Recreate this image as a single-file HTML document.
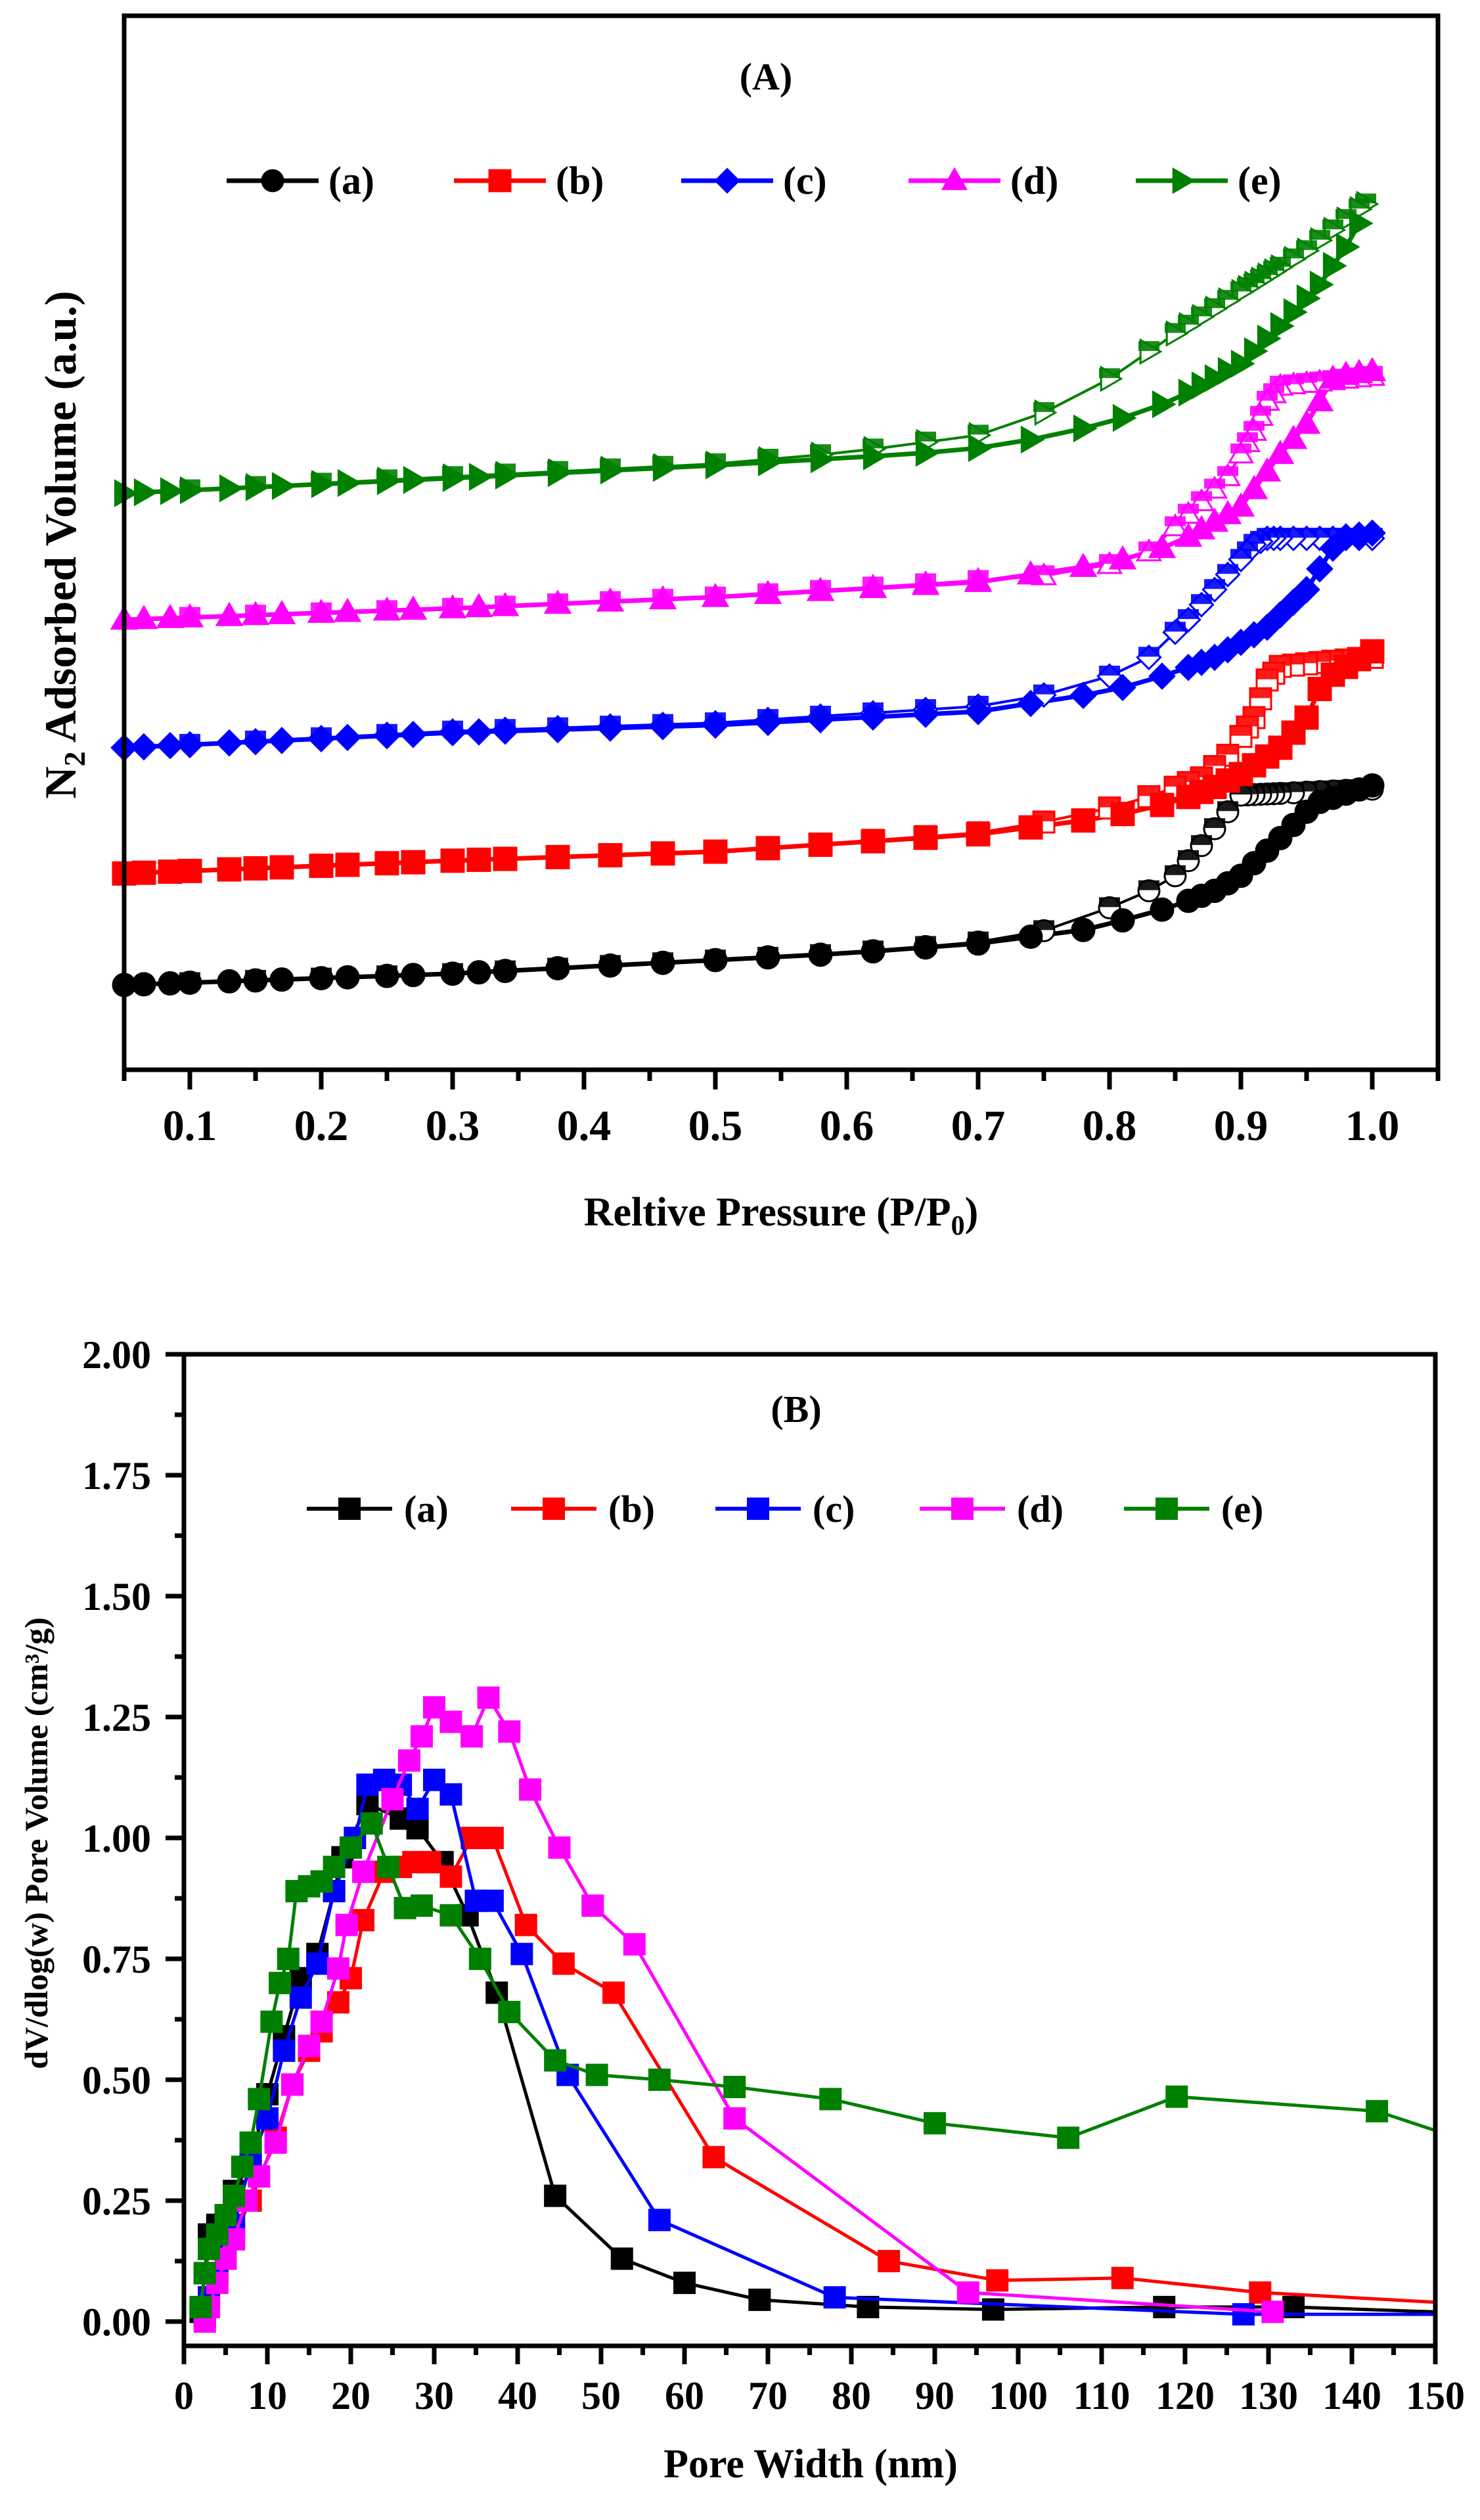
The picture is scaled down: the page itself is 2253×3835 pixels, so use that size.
<!DOCTYPE html>
<html><head><meta charset="utf-8"><style>
html,body{margin:0;padding:0;background:#fff;}
svg{display:block;}
text{font-family:"Liberation Serif",serif;font-weight:bold;fill:#000;}
</style></head><body>
<svg id="s" width="2253" height="3835" xmlns="http://www.w3.org/2000/svg"></svg>
<script>
var S=document.getElementById('s'),out=[];
function add(t){out.push(t);}
function interp(k,P){if(P<=k[0][0])return k[0][1];for(var i=1;i<k.length;i++){if(P<=k[i][0]){var a=k[i-1],b=k[i];return a[1]+(b[1]-a[1])*(P-a[0])/(b[0]-a[0]);}}return k[k.length-1][1];}
function shape(sh,x,y,s,col,fill){
 var h=s/2;
 if(sh=='c')return '<circle cx="'+x+'" cy="'+y+'" r="'+h+'" fill="'+fill+'" stroke="'+col+'" stroke-width="3"/>';
 if(sh=='s')return '<rect x="'+(x-h)+'" y="'+(y-h)+'" width="'+s+'" height="'+s+'" fill="'+fill+'" stroke="'+col+'" stroke-width="3"/>';
 var p;
 if(sh=='d')p=[[x,y-h*1.1],[x+h*1.1,y],[x,y+h*1.1],[x-h*1.1,y]];
 if(sh=='t')p=[[x,y-h*1.1],[x+h*1.1,y+h*0.8],[x-h*1.1,y+h*0.8]];
 if(sh=='r')p=[[x+h*1.1,y],[x-h*0.8,y-h*1.1],[x-h*0.8,y+h*1.1]];
 return '<polygon points="'+p.map(function(q){return q[0].toFixed(1)+','+q[1].toFixed(1)}).join(' ')+'" fill="'+fill+'" stroke="'+col+'" stroke-width="3"/>';
}
// ---------- Panel A ----------
function ax(P){return 189+(P-0.05)*2000;}
function ay(y){return 24+(y-18)*1.146;}
var A=[
 {c:'#000',sh:'c',ads:[[0.05,1305],[0.3,1290],[0.5,1272],[0.6,1263],[0.7,1250],[0.78,1232],[0.82,1215],[0.85,1200],[0.88,1180],[0.9,1160],[0.93,1110],[0.95,1075],[0.96,1062],[1.0,1040]],
  des:[[0.05,1305],[0.3,1290],[0.5,1272],[0.6,1263],[0.7,1248],[0.75,1233],[0.78,1215],[0.82,1190],[0.85,1160],[0.87,1120],[0.89,1075],[0.9,1053],[1.0,1045]]},
 {c:'#ff0000',sh:'s',ads:[[0.05,1157],[0.3,1140],[0.5,1128],[0.7,1105],[0.8,1082],[0.85,1062],[0.88,1042],[0.9,1025],[0.93,990],[0.95,950],[0.96,912],[0.97,893],[1.0,862]],
  des:[[0.05,1157],[0.3,1140],[0.5,1128],[0.7,1103],[0.78,1080],[0.83,1055],[0.87,1030],[0.89,1000],[0.91,950],[0.92,900],[0.93,882],[1.0,870]]},
 {c:'#0000ff',sh:'d',ads:[[0.05,990],[0.3,970],[0.5,960],[0.7,942],[0.8,915],[0.85,890],[0.88,870],[0.92,830],[0.95,780],[0.97,725],[0.98,710],[1.0,705]],
  des:[[0.05,990],[0.3,968],[0.5,957],[0.7,935],[0.75,920],[0.8,895],[0.83,870],[0.86,820],[0.89,760],[0.91,720],[0.92,712],[1.0,712]]},
 {c:'#ff00ff',sh:'t',ads:[[0.05,820],[0.3,805],[0.5,790],[0.7,770],[0.8,745],[0.85,720],[0.9,670],[0.93,600],[0.95,560],[0.97,500],[0.98,495],[1.0,490]],
  des:[[0.05,820],[0.3,805],[0.5,790],[0.7,768],[0.78,758],[0.83,730],[0.86,680],[0.89,630],[0.91,570],[0.92,530],[0.93,510],[1.0,497]]},
 {c:'#008000',sh:'r',ads:[[0.05,652],[0.3,632],[0.5,615],[0.65,600],[0.7,592],[0.75,578],[0.8,558],[0.85,528],[0.9,480],[0.93,430],[0.96,375],[0.98,325],[0.995,278]],
  des:[[0.05,652],[0.3,630],[0.5,613],[0.6,598],[0.7,575],[0.75,545],[0.8,500],[0.85,440],[0.9,385],[0.95,330],[0.995,268]]}
];
var PA=[0.05,0.065,0.085,0.1,0.13,0.15,0.17,0.2,0.22,0.25,0.27,0.3,0.32,0.34,0.38,0.42,0.46,0.5,0.54,0.58,0.62,0.66,0.7,0.74,0.78,0.81,0.84,0.86,0.87,0.88,0.89,0.9,0.91,0.92,0.93,0.94,0.95,0.96,0.97,0.98,0.99,1.0];
var PD=[1.0,0.99,0.98,0.97,0.96,0.95,0.94,0.93,0.925,0.92,0.915,0.91,0.905,0.9,0.89,0.88,0.87,0.86,0.85,0.83,0.8,0.75,0.7,0.66,0.62,0.58,0.54,0.5,0.46,0.42,0.38,0.34,0.3,0.25,0.2,0.15,0.1];
A.forEach(function(s){
 var pa=PA.filter(function(p){return p<=s.ads[s.ads.length-1][0]+1e-9;});
 var pd=PD.map(function(p){return Math.min(p,s.des[s.des.length-1][0]);});
 var la=pa.map(function(p){return ax(p).toFixed(1)+','+ay(interp(s.ads,p)).toFixed(1);}).join(' ');
 var ld=pd.map(function(p){return ax(p).toFixed(1)+','+ay(interp(s.des,p)).toFixed(1);}).join(' ');
 add('<polyline points="'+ld+'" fill="none" stroke="'+s.c+'" stroke-width="4"/>');
 add('<polyline points="'+la+'" fill="none" stroke="'+s.c+'" stroke-width="7"/>');
 pd.forEach(function(p){var x=ax(p),y=ay(interp(s.des,p));add(shape(s.sh,x,y,32,s.c,'#fff'));add('<rect x="'+(x-16)+'" y="'+(y-16)+'" width="32" height="15" fill="'+s.c+'" opacity="0.9"/>');});
 pa.forEach(function(p){add(shape(s.sh,ax(p),ay(interp(s.ads,p)),34,s.c,s.c));});
});
add('<rect x="189" y="24" width="2000" height="1604" fill="none" stroke="#000" stroke-width="7"/>');
for(var i=0;i<=20;i++){var P=0.05+i*0.05;var x=ax(P);var maj=(i%2==1);add('<line x1="'+x+'" y1="1628" x2="'+x+'" y2="'+(maj?1658:1645)+'" stroke="#000" stroke-width="7"/>');
 if(maj){add('<text x="'+x+'" y="1735" font-size="66" text-anchor="middle">'+(Math.round(P*10)/10).toFixed(1)+'</text>');}}
add('<text x="1166" y="136" font-size="58" text-anchor="middle">(A)</text>');
add('<text x="1189" y="1865" font-size="62" text-anchor="middle">Reltive Pressure (P/P<tspan font-size="42" dy="14">0</tspan><tspan dy="-14">)</tspan></text>');
add('<text transform="translate(115,829) rotate(-90)" font-size="68" text-anchor="middle">N<tspan font-size="46" dy="14">2</tspan><tspan dy="-14"> Adsorbed Volume (a.u.)</tspan></text>');
var legA=['(a)','(b)','(c)','(d)','(e)'];
A.forEach(function(s,i){var mx=415+i*346,y=275;add('<line x1="'+(mx-70)+'" y1="'+y+'" x2="'+(mx+70)+'" y2="'+y+'" stroke="'+s.c+'" stroke-width="7"/>');add(shape(s.sh,mx,y,32,s.c,s.c));add('<text x="'+(mx+85)+'" y="'+(y+20)+'" font-size="60">'+legA[i]+'</text>');});
// ---------- Panel B ----------
function bx(v){return 280+v*1905/150;}
function by(v){return 3533-v*736;}
var B=[
 {c:'#000',d:[[2,0.02],[2.5,0.1],[3,0.18],[4,0.2],[5,0.22],[6,0.27],[8,0.33],[10,0.47],[12,0.59],[14,0.71],[16,0.76],[18,0.89],[19,0.96],[22,1.07],[26,1.04],[28,1.02],[31,0.95],[34,0.84],[37.5,0.68],[44.5,0.26],[52.5,0.13],[60,0.08],[69,0.045],[82,0.03],[97,0.025],[117.5,0.03],[133,0.03],[150,0.02]]},
 {c:'#ff0000',d:[[2.5,0.01],[3,0.05],[4,0.1],[5,0.14],[6,0.18],[8,0.25],[11,0.38],[13,0.49],[15,0.56],[16.5,0.6],[18.5,0.66],[20,0.71],[21.5,0.83],[24,0.93],[26,0.94],[27.5,0.95],[29.5,0.95],[32,0.92],[34.5,1.0],[37,1.0],[41,0.82],[45.5,0.74],[51.5,0.68],[63.5,0.34],[84.5,0.125],[97.5,0.085],[112.5,0.09],[129,0.06],[150,0.04]]},
 {c:'#0000ff',d:[[2.5,0.01],[3,0.05],[4,0.1],[5,0.15],[6,0.2],[8,0.33],[10,0.42],[12,0.56],[14,0.67],[16,0.74],[18,0.89],[20.5,1.0],[22,1.11],[24,1.12],[26,1.11],[28,1.06],[30,1.12],[32,1.09],[35,0.87],[37,0.87],[40.5,0.76],[46,0.51],[57,0.21],[78,0.05],[127,0.015],[150,0.015]]},
 {c:'#ff00ff',d:[[2.5,0.0],[3,0.03],[4,0.08],[5,0.13],[6,0.17],[7.5,0.25],[9,0.3],[11,0.37],[13,0.49],[15,0.57],[16.5,0.62],[18.5,0.73],[19.5,0.82],[21.5,0.93],[25,1.08],[27,1.16],[28.5,1.21],[30,1.27],[32,1.24],[34.5,1.21],[36.5,1.29],[39,1.22],[41.5,1.1],[45,0.98],[49,0.86],[54,0.78],[66,0.42],[94,0.06],[130.5,0.02]]},
 {c:'#008000',d:[[2,0.03],[2.5,0.1],[3,0.15],[4,0.18],[5,0.22],[6,0.26],[7,0.32],[8,0.37],[9,0.46],[10.5,0.62],[11.5,0.7],[12.5,0.75],[13.5,0.89],[15,0.9],[16.5,0.91],[18,0.94],[20,0.98],[22.5,1.03],[24.5,0.94],[26.5,0.855],[28.5,0.86],[32,0.84],[35.5,0.75],[39,0.64],[44.5,0.54],[49.5,0.51],[57,0.5],[66,0.485],[77.5,0.46],[90,0.41],[106,0.38],[119,0.465],[143,0.435],[150,0.395]]}
];
B.forEach(function(s){
 add('<polyline points="'+s.d.map(function(q){return bx(q[0]).toFixed(1)+','+by(q[1]).toFixed(1)}).join(' ')+'" fill="none" stroke="'+s.c+'" stroke-width="5"/>');
 s.d.forEach(function(q){if(q[0]<150)add(shape('s',bx(q[0]),by(q[1]),31,s.c,s.c));});
});
add('<rect x="280" y="2061" width="1905" height="1509" fill="none" stroke="#000" stroke-width="7"/>');
for(var i=0;i<=16;i++){var v=i*0.125,y=by(v),maj=(i%2==0);add('<line x1="280" y1="'+y+'" x2="'+(maj?252:266)+'" y2="'+y+'" stroke="#000" stroke-width="7"/>');
 if(maj)add('<text x="230" y="'+(y+21)+'" font-size="60" text-anchor="end">'+v.toFixed(2)+'</text>');}
for(var i=0;i<=30;i++){var v=i*5,x=bx(v),maj=(i%2==0);add('<line x1="'+x+'" y1="3570" x2="'+x+'" y2="'+(maj?3598:3584)+'" stroke="#000" stroke-width="7"/>');
 if(maj)add('<text x="'+x+'" y="3666" font-size="60" text-anchor="middle">'+v+'</text>');}
add('<text x="1212" y="2164" font-size="58" text-anchor="middle">(B)</text>');
add('<text x="1234" y="3770" font-size="62" text-anchor="middle">Pore Width (nm)</text>');
add('<text transform="translate(72,2805) rotate(-90)" font-size="50" text-anchor="middle">dV/dlog(w) Pore Volume (cm³/g)</text>');
B.forEach(function(s,i){var mx=532+i*311,y=2296;add('<line x1="'+(mx-65)+'" y1="'+y+'" x2="'+(mx+65)+'" y2="'+y+'" stroke="'+s.c+'" stroke-width="6"/>');add(shape('s',mx,y,31,s.c,s.c));add('<text x="'+(mx+83)+'" y="'+(y+20)+'" font-size="58">'+legA[i]+'</text>');});
S.innerHTML=out.join('');
</script>
</body></html>
